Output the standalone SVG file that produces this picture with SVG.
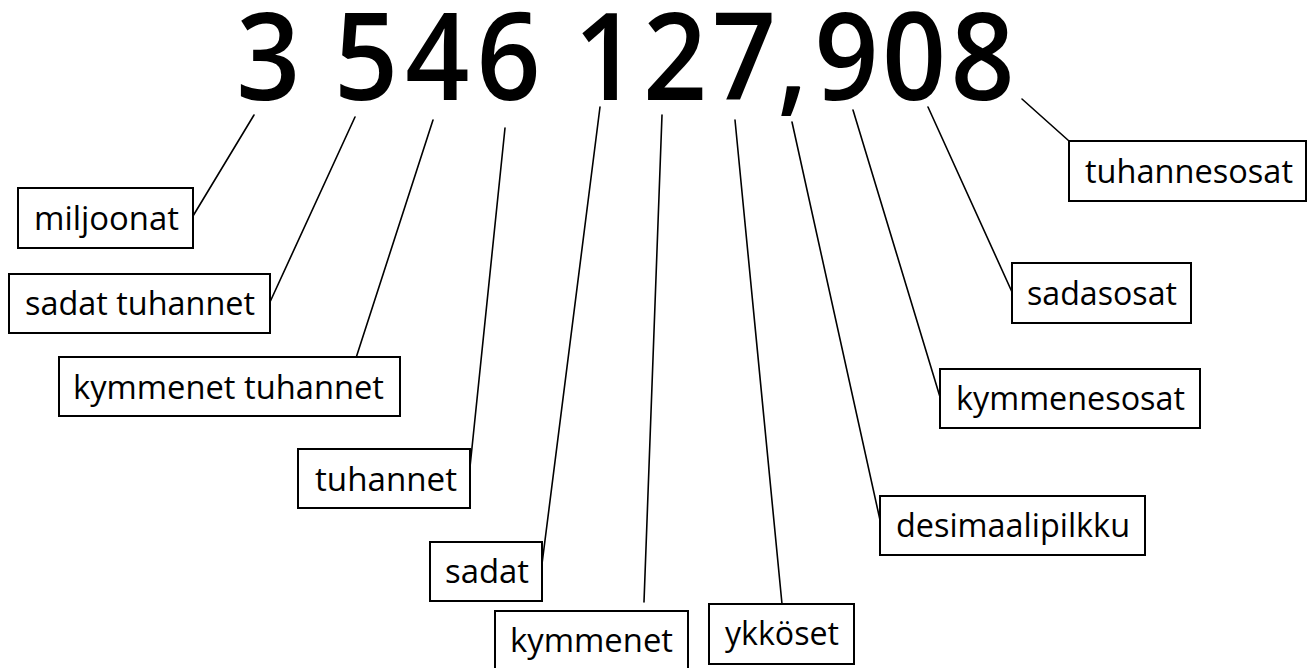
<svg xmlns="http://www.w3.org/2000/svg" width="1314" height="668" viewBox="0 0 1314 668">
<style>
.box{fill:#fff;stroke:#000;stroke-width:2}
.lbl{font-family:"Open Sans","Noto Sans","Liberation Sans",sans-serif;font-size:33px;fill:#000}
.num{font-family:"Open Sans","Noto Sans","Liberation Sans",sans-serif;font-size:122px;font-weight:600;fill:#000;text-anchor:middle}
.conn line{stroke:#000;stroke-width:1.6;stroke-linecap:round}
</style>
<rect width="1314" height="668" fill="#fff"/>
<g id="number" transform="scale(0.92,1)">
<text class="num" x="291.8 344.6 397.8 475.5 552.7 605.4 658.7 733.7 808.7 861.4 920.1 993.5 1068" y="100">3 546 127,908</text>
</g>
<g class="conn" id="connectors">
<line x1="254" y1="115" x2="193" y2="216"/>
<line x1="355" y1="117" x2="270" y2="302"/>
<line x1="433" y1="120" x2="356" y2="358"/>
<line x1="505" y1="128" x2="470" y2="467"/>
<line x1="600" y1="107" x2="542" y2="564"/>
<line x1="662" y1="115" x2="644" y2="602"/>
<line x1="735" y1="120" x2="782" y2="604"/>
<line x1="792" y1="122" x2="880" y2="520"/>
<line x1="853" y1="110" x2="940" y2="397"/>
<line x1="928" y1="107" x2="1012" y2="292"/>
<line x1="1022" y1="99" x2="1069" y2="141"/>
</g>
<g id="miljoonat"><rect class="box" x="18" y="188" width="175" height="60"/><text class="lbl" x="34" y="230" textLength="145" lengthAdjust="spacingAndGlyphs">miljoonat</text></g>
<g id="sadat-tuhannet"><rect class="box" x="9" y="274" width="261" height="59"/><text class="lbl" x="25" y="315" textLength="230" lengthAdjust="spacingAndGlyphs">sadat tuhannet</text></g>
<g id="kymmenet-tuhannet"><rect class="box" x="59" y="357" width="341" height="59"/><text class="lbl" x="73" y="399" textLength="311" lengthAdjust="spacingAndGlyphs">kymmenet tuhannet</text></g>
<g id="tuhannet"><rect class="box" x="298" y="449" width="172" height="59"/><text class="lbl" x="315" y="491" textLength="142" lengthAdjust="spacingAndGlyphs">tuhannet</text></g>
<g id="sadat"><rect class="box" x="430" y="542" width="112" height="59"/><text class="lbl" x="445" y="583" textLength="84" lengthAdjust="spacingAndGlyphs">sadat</text></g>
<g id="kymmenet"><rect class="box" x="495" y="611" width="193" height="70"/><text class="lbl" x="510" y="652" textLength="163" lengthAdjust="spacingAndGlyphs">kymmenet</text></g>
<g id="ykkoset"><rect class="box" x="709" y="604" width="145" height="60"/><text class="lbl" x="725" y="645" textLength="114" lengthAdjust="spacingAndGlyphs">ykköset</text></g>
<g id="desimaalipilkku"><rect class="box" x="880" y="496" width="265" height="59"/><text class="lbl" x="896" y="537" textLength="234" lengthAdjust="spacingAndGlyphs">desimaalipilkku</text></g>
<g id="kymmenesosat"><rect class="box" x="940" y="369" width="260" height="59"/><text class="lbl" x="956" y="410" textLength="229" lengthAdjust="spacingAndGlyphs">kymmenesosat</text></g>
<g id="sadasosat"><rect class="box" x="1012" y="263" width="179" height="60"/><text class="lbl" x="1027" y="305" textLength="150" lengthAdjust="spacingAndGlyphs">sadasosat</text></g>
<g id="tuhannesosat"><rect class="box" x="1069" y="141" width="237" height="60"/><text class="lbl" x="1085" y="183" textLength="208" lengthAdjust="spacingAndGlyphs">tuhannesosat</text></g>
</svg>
